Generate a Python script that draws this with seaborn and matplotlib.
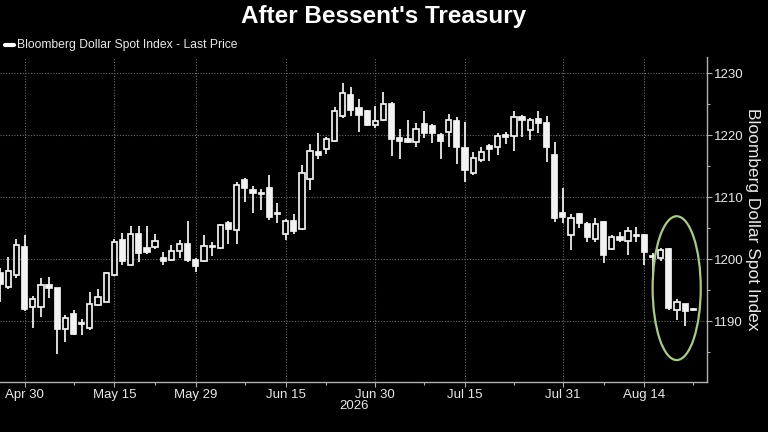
import matplotlib
matplotlib.use("Agg")
import matplotlib.pyplot as plt
from matplotlib.lines import Line2D
from matplotlib.patches import Ellipse
import numpy as np
import pandas as pd
import seaborn as sns

# Bloomberg dark look
sns.set_theme(style="dark", rc={
    "figure.facecolor": "black",
    "axes.facecolor": "black",
    "axes.edgecolor": "#b0b0b0",
    "text.color": "#e8e8e8",
    "xtick.color": "#b0b0b0",
    "ytick.color": "#b0b0b0",
    "axes.labelcolor": "#e8e8e8",
})
plt.rcParams["font.family"] = ["Liberation Sans", "DejaVu Sans"]

# Daily candles, Bloomberg Dollar Spot Index (trading days from Apr 27, 2026)
start_date = "2026-04-27"
open_ = [1197.7, 1195.5, 1197.4, 1202.0, 1192.3, 1192.3, 1195.8, 1195.3, 1188.7, 1191.2,
         1189.5, 1188.8, 1192.6, 1193.1, 1197.4, 1203.0, 1199.1, 1204.0, 1201.7, 1202.0,
         1200.2, 1199.8, 1201.3, 1202.4, 1199.8, 1199.7, 1201.9, 1201.8, 1205.8, 1204.7,
         1212.7, 1211.1, 1210.5, 1211.4, 1207.3, 1204.1, 1206.1, 1204.8, 1212.9, 1217.3,
         1217.7, 1219.0, 1223.0, 1226.5, 1224.3, 1223.8, 1221.6, 1222.4, 1225.0, 1219.5,
         1219.3, 1218.9, 1221.8, 1221.5, 1220.0, 1220.5, 1222.3, 1217.9, 1213.8, 1216.0,
         1218.3, 1218.1, 1220.0, 1219.9, 1222.9, 1220.8, 1222.6, 1222.0, 1216.8, 1207.4,
         1203.8, 1207.2, 1205.6, 1203.2, 1205.9, 1201.6, 1203.5, 1202.9, 1203.7, 1203.8,
         1200.3, 1200.1, 1201.6, 1191.8, 1192.7, 1191.7]
high = [1198.5, 1200.3, 1203.3, 1203.9, 1194.1, 1196.9, 1197.1, 1195.4, 1191.0, 1191.8,
        1190.3, 1194.7, 1195.2, 1197.9, 1203.2, 1204.2, 1205.4, 1205.4, 1205.4, 1204.1,
        1201.1, 1202.3, 1203.1, 1206.1, 1200.2, 1203.9, 1202.8, 1205.7, 1206.1, 1212.5,
        1213.0, 1211.7, 1211.3, 1213.6, 1209.0, 1206.4, 1207.2, 1215.2, 1218.5, 1220.4,
        1219.7, 1224.5, 1228.4, 1227.8, 1225.8, 1224.1, 1224.7, 1227.0, 1225.4, 1220.9,
        1222.4, 1221.9, 1223.8, 1221.7, 1220.4, 1223.4, 1222.9, 1222.1, 1217.2, 1218.1,
        1218.5, 1220.4, 1220.5, 1223.9, 1223.3, 1222.8, 1223.9, 1223.1, 1218.9, 1211.4,
        1207.2, 1207.5, 1206.0, 1206.6, 1206.1, 1203.8, 1204.3, 1205.2, 1205.2, 1204.0,
        1200.9, 1201.7, 1201.8, 1193.5, 1192.8, 1192.1]
low = [1193.0, 1195.2, 1197.0, 1191.6, 1188.8, 1190.7, 1193.7, 1184.6, 1186.6, 1187.7,
       1187.7, 1188.6, 1192.4, 1193.0, 1197.3, 1199.0, 1199.0, 1199.5, 1200.8, 1201.6,
       1199.0, 1199.6, 1200.1, 1199.5, 1197.9, 1199.5, 1200.5, 1201.6, 1202.5, 1202.4,
       1209.2, 1207.5, 1207.9, 1206.3, 1205.8, 1203.1, 1204.1, 1204.7, 1211.1, 1216.1,
       1216.9, 1218.9, 1222.8, 1223.0, 1220.5, 1221.4, 1221.2, 1222.3, 1216.6, 1216.1,
       1218.7, 1218.1, 1219.5, 1218.7, 1216.2, 1218.1, 1215.3, 1212.5, 1213.5, 1215.6,
       1215.8, 1216.8, 1218.5, 1217.4, 1219.7, 1219.2, 1220.3, 1215.6, 1205.9, 1205.8,
       1201.5, 1205.0, 1202.7, 1202.8, 1199.3, 1201.4, 1202.8, 1200.6, 1202.7, 1199.0,
       1197.4, 1199.7, 1191.8, 1190.2, 1189.2, 1191.6]
close = [1195.9, 1198.0, 1202.3, 1191.9, 1193.5, 1195.8, 1195.4, 1188.7, 1190.5, 1187.9,
         1189.6, 1192.7, 1193.8, 1197.7, 1202.8, 1199.6, 1204.1, 1200.9, 1201.2, 1202.9,
         1199.6, 1201.3, 1202.4, 1199.8, 1198.9, 1202.1, 1202.0, 1205.5, 1204.8, 1211.9,
         1211.5, 1210.7, 1210.6, 1206.7, 1207.4, 1206.2, 1204.5, 1213.8, 1217.4, 1216.7,
         1219.4, 1223.8, 1226.7, 1224.0, 1223.2, 1221.6, 1222.3, 1225.0, 1219.3, 1219.1,
         1218.9, 1220.9, 1220.4, 1220.3, 1219.1, 1222.5, 1218.0, 1214.3, 1216.3, 1217.2,
         1217.7, 1219.9, 1219.7, 1222.9, 1222.5, 1222.4, 1221.9, 1218.0, 1206.6, 1206.8,
         1206.6, 1205.8, 1203.6, 1205.6, 1200.6, 1203.6, 1203.1, 1204.5, 1203.8, 1201.2,
         1200.4, 1201.5, 1192.1, 1193.1, 1191.6, 1192.0]

tick_dates = ["2026-04-30", "2026-05-15", "2026-05-29", "2026-06-15",
              "2026-06-30", "2026-07-15", "2026-07-31", "2026-08-14"]
minor_dates = ["2026-05-08", "2026-05-22", "2026-06-08", "2026-06-22",
               "2026-07-08", "2026-07-23", "2026-08-07", "2026-08-24"]
y_ticks = [1190, 1200, 1210, 1220, 1230]

df = pd.DataFrame({"open": open_, "high": high, "low": low, "close": close})
df["date"] = pd.bdate_range(start_date, periods=len(df))
df["x"] = np.arange(len(df))
df["up"] = df["close"] >= df["open"]
df["bottom"] = df[["open", "close"]].min(axis=1)
df["height"] = (df["close"] - df["open"]).abs().clip(lower=0.12)

pos = {d: i for i, d in enumerate(df["date"].dt.strftime("%Y-%m-%d"))}
major_x = [pos[d] for d in tick_dates]
minor_x = [pos[d] for d in minor_dates]

fig = plt.figure(figsize=(7.68, 4.32), dpi=100)
ax = fig.add_axes([0.0, 0.1157, 0.9206, 0.7523])

# wicks
ax.vlines(df["x"], df["low"], df["high"], color="white", linewidth=1.2, zorder=2)
# bodies: hollow for up days, filled for down days
fills = np.where(df["up"], "black", "#f2f2f2")
ax.bar(df["x"], df["height"], bottom=df["bottom"], width=0.64,
       color=fills, edgecolor="#f2f2f2", linewidth=1.25, zorder=3)

ax.set_xlim(-0.02, 86.68)
ax.set_ylim(1180.16, 1232.58)

ax.set_xticks(major_x)
ax.set_xticklabels([pd.Timestamp(d).strftime("%b %d") for d in tick_dates])
ax.set_xticks(minor_x, minor=True)
ax.set_yticks(y_ticks)
ax.set_yticks(np.arange(1185, 1235, 10), minor=True)
ax.yaxis.tick_right()
ax.yaxis.set_label_position("right")
ax.tick_params(axis="both", which="major", length=3.5, width=0.8,
               labelcolor="#e8e8e8")
ax.tick_params(axis="x", which="major", labelsize=9.5, pad=1.5)
ax.tick_params(axis="y", which="major", labelsize=9.5, pad=1.5)
ax.tick_params(axis="both", which="minor", length=2.5, width=0.8)
ax.tick_params(axis="x", which="both", bottom=True)
ax.tick_params(axis="y", which="both", right=True, left=False)

ax.grid(True, which="major", color="#6a6a6a", linestyle=(0, (1, 1.5)), linewidth=0.8)
for side in ("top", "left"):
    ax.spines[side].set_visible(False)
for side in ("right", "bottom"):
    ax.spines[side].set_visible(True)
    ax.spines[side].set_color("#b0b0b0")
    ax.spines[side].set_linewidth(1.0)

ax.set_ylabel("Bloomberg Dollar Spot Index", rotation=270, fontsize=12.5,
              labelpad=12, color="#e8e8e8")

# circle around the latest slide
ax.add_patch(Ellipse((82.96, 1195.3), 5.9, 23.2, fill=False,
                     edgecolor="#a9c98a", linewidth=1.6, zorder=4))

fig.text(0.5, 0.962, "After Bessent's Treasury", ha="center", va="center",
         fontsize=17.5, fontweight="bold", color="white")
fig.add_artist(Line2D([0.007, 0.018], [0.896, 0.896], color="white", linewidth=3,
                      transform=fig.transFigure))
fig.text(0.022, 0.896, "Bloomberg Dollar Spot Index - Last Price", ha="left",
         va="center", fontsize=8.7, color="#e8e8e8")
fig.text(354 / 768, 1 - 406 / 432, "2026", ha="center", va="center",
         fontsize=9.5, color="#e8e8e8")

fig.savefig("out.png", dpi=100, facecolor="black")
